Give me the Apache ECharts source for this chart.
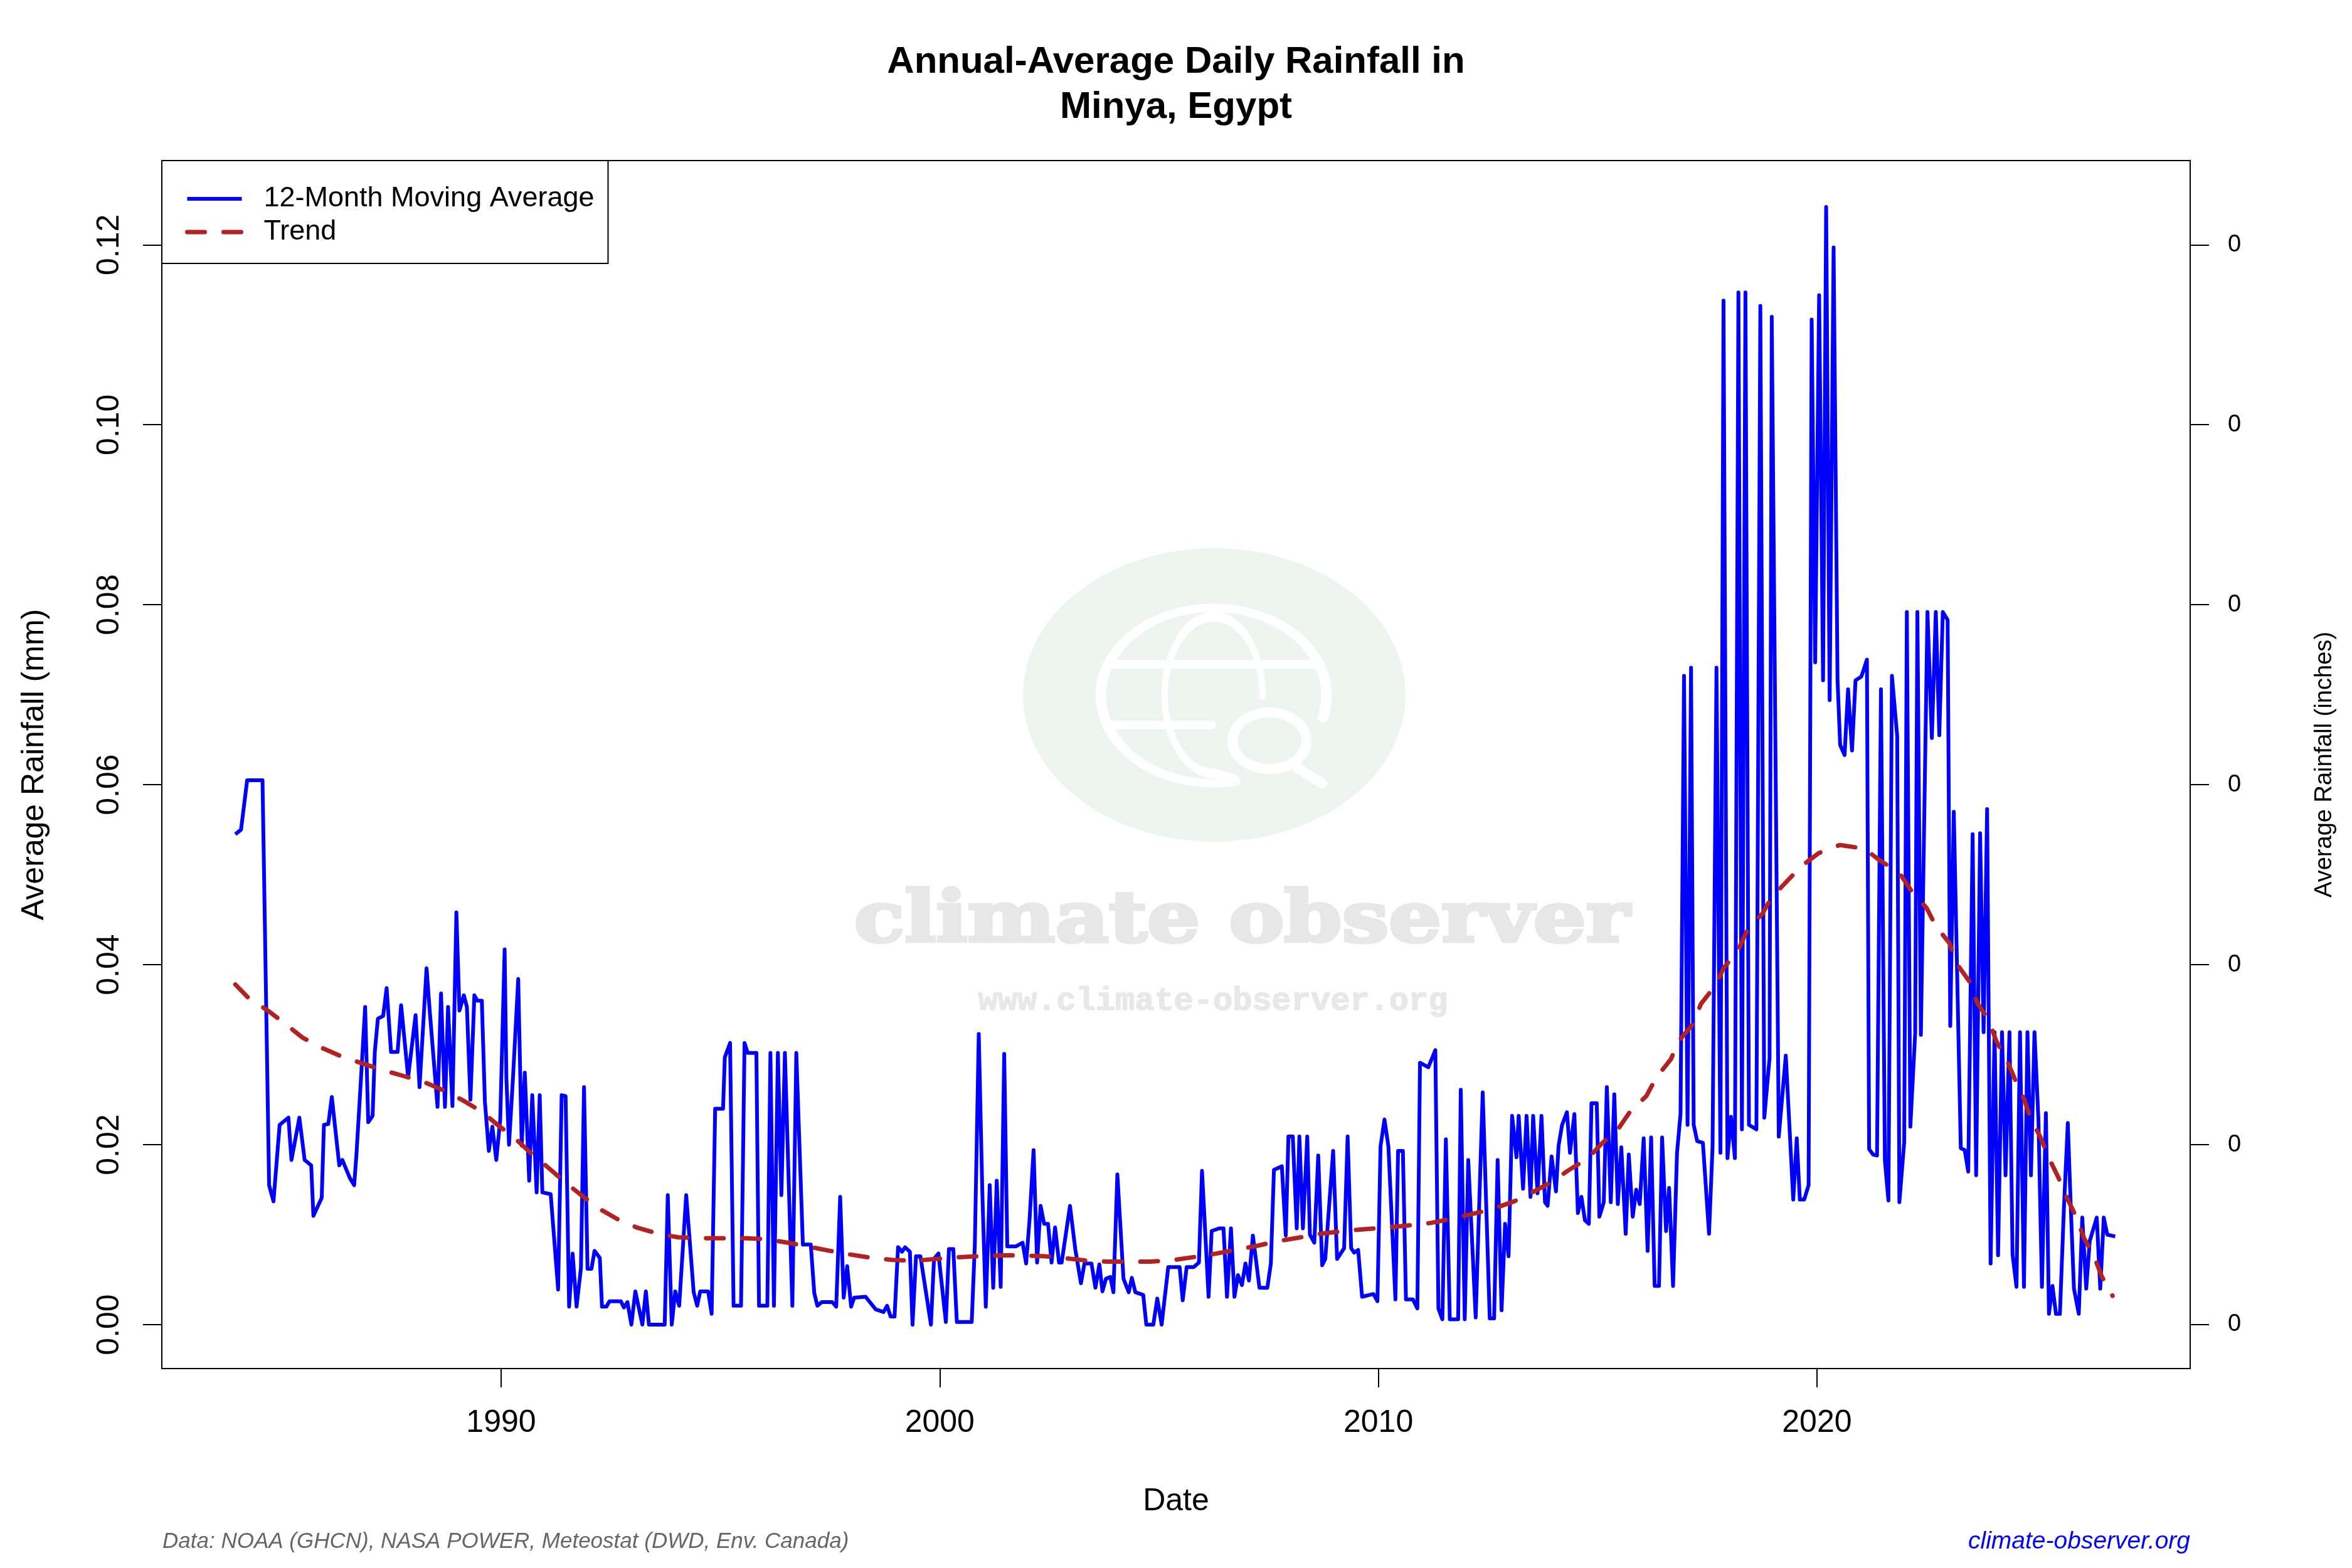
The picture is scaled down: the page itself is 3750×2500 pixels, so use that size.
<!DOCTYPE html>
<html>
<head>
<meta charset="utf-8">
<script src="https://cdn.jsdelivr.net/npm/echarts@6/dist/echarts.min.js"></script>
<style>
html,body{margin:0;padding:0;background:#fff;}
#chart{width:3750px;height:2500px;}
</style>
</head>
<body>
<div id="chart"></div>
<script>
// ---- data (decimal years, mm/day) ----
const maDates = [
1983.94,1984.07,1984.21,1984.56,1984.71,1984.81,1984.95,1985.15,1985.22,1985.40,1985.52,1985.67,1985.72,1985.91,1985.96,
1986.06,1986.14,1986.31,1986.38,1986.55,1986.65,1986.70,1986.78,1986.90,1986.97,1987.07,1987.12,1987.19,1987.31,1987.39,
1987.49,1987.64,1987.72,1987.88,1988.05,1988.14,1988.30,1988.37,1988.55,1988.63,1988.72,1988.79,1988.89,1988.98,1989.05,
1989.15,1989.22,1989.30,1989.39,1989.46,1989.56,1989.63,1989.72,1989.80,1989.89,1989.98,1990.08,1990.12,1990.18,1990.27,
1990.39,1990.47,1990.54,1990.64,1990.71,1990.81,1990.88,1990.94,1991.13,1991.30,1991.38,1991.47,1991.55,1991.63,1991.72,
1991.82,1991.89,1991.97,1992.06,1992.13,1992.25,1992.30,1992.40,1992.47,1992.73,1992.80,1992.88,1992.97,1993.06,1993.22,
1993.30,1993.37,1993.73,1993.80,1993.89,1993.97,1994.06,1994.22,1994.39,1994.47,1994.54,1994.72,1994.80,1994.88,1995.06,
1995.10,1995.22,1995.30,1995.47,1995.55,1995.62,1995.82,1995.88,1996.07,1996.14,1996.22,1996.31,1996.39,1996.47,1996.64,
1996.73,1996.88,1997.06,1997.14,1997.21,1997.31,1997.55,1997.64,1997.73,1997.81,1997.89,1997.98,1998.05,1998.31,1998.54,
1998.72,1998.80,1998.88,1998.97,1999.05,1999.14,1999.21,1999.32,1999.38,1999.46,1999.56,1999.80,1999.87,1999.97,2000.14,
2000.21,2000.31,2000.39,2000.73,2000.80,2000.89,2000.97,2001.05,2001.14,2001.22,2001.30,2001.39,2001.47,2001.54,2001.74,
2001.89,2001.97,2002.05,2002.14,2002.22,2002.30,2002.38,2002.47,2002.55,2002.63,2002.72,2002.78,2002.97,2003.09,2003.22,
2003.30,2003.46,2003.55,2003.64,2003.71,2003.79,2003.89,2003.96,2004.05,2004.19,2004.31,2004.38,2004.46,2004.64,2004.71,
2004.87,2004.96,2005.06,2005.21,2005.47,2005.54,2005.63,2005.79,2005.91,2005.98,2006.13,2006.20,2006.37,2006.47,2006.55,
2006.64,2006.72,2006.80,2006.89,2006.97,2007.05,2007.14,2007.29,2007.47,2007.55,2007.62,2007.80,2007.89,2007.95,2008.05,
2008.14,2008.20,2008.28,2008.38,2008.44,2008.54,2008.63,2008.72,2008.79,2008.97,2009.06,2009.22,2009.30,2009.38,2009.45,
2009.54,2009.63,2009.89,2009.98,2010.05,2010.14,2010.23,2010.39,2010.45,2010.56,2010.63,2010.79,2010.89,2010.95,2011.14,
2011.30,2011.37,2011.46,2011.54,2011.63,2011.82,2011.88,2011.97,2012.05,2012.22,2012.38,2012.54,2012.64,2012.72,2012.81,
2012.89,2012.97,2013.05,2013.15,2013.20,2013.30,2013.38,2013.47,2013.53,2013.63,2013.72,2013.80,2013.86,2013.95,2014.05,
2014.11,2014.19,2014.30,2014.37,2014.47,2014.55,2014.63,2014.71,2014.80,2014.86,2014.98,2015.04,2015.14,2015.21,2015.30,
2015.38,2015.46,2015.54,2015.64,2015.71,2015.80,2015.88,2015.96,2016.05,2016.14,2016.22,2016.30,2016.40,2016.47,2016.56,
2016.63,2016.72,2016.81,2016.89,2016.97,2017.05,2017.13,2017.19,2017.27,2017.40,2017.54,2017.62,2017.71,2017.80,2017.87,
2017.96,2018.04,2018.13,2018.21,2018.29,2018.37,2018.45,2018.62,2018.71,2018.80,2018.92,2018.97,2019.13,2019.29,2019.46,
2019.54,2019.61,2019.71,2019.81,2019.88,2019.96,2020.05,2020.14,2020.21,2020.29,2020.38,2020.47,2020.53,2020.63,2020.71,
2020.80,2020.88,2021.01,2021.06,2021.14,2021.19,2021.28,2021.37,2021.46,2021.55,2021.63,2021.71,2021.83,2021.88,2021.99,
2022.05,2022.13,2022.24,2022.29,2022.37,2022.52,2022.62,2022.71,2022.79,2022.87,2022.98,2023.04,2023.12,2023.28,2023.37,
2023.45,2023.55,2023.63,2023.72,2023.80,2023.88,2023.96,2024.05,2024.13,2024.22,2024.30,2024.39,2024.46,2024.55,2024.63,
2024.72,2024.80,2024.88,2024.96,2025.05,2025.13,2025.22,2025.29,2025.37,2025.45,2025.54,2025.63,2025.72,2025.79,2025.86,
2025.97,2026.05,2026.14,2026.22,2026.38,2026.46,2026.54,2026.62,2026.80
];
const maValues = [
0.0545,0.0550,0.0605,0.0605,0.0155,0.0137,0.0222,0.0230,0.0183,0.0230,0.0183,0.0177,0.0121,0.0141,0.0222,
0.0223,0.0253,0.0177,0.0183,0.0163,0.0155,0.0188,0.0253,0.0353,0.0225,0.0232,0.0303,0.0340,0.0343,0.0374,
0.0303,0.0303,0.0355,0.0275,0.0344,0.0264,0.0396,0.0350,0.0242,0.0368,0.0242,0.0353,0.0243,0.0458,0.0349,
0.0366,0.0353,0.0250,0.0366,0.0360,0.0360,0.0248,0.0193,0.0220,0.0183,0.0228,0.0417,0.0274,0.0200,0.0274,
0.0384,0.0199,0.0280,0.0160,0.0255,0.0147,0.0255,0.0147,0.0145,0.0039,0.0255,0.0254,0.0020,0.0079,0.0020,
0.0063,0.0264,0.0062,0.0062,0.0082,0.0074,0.0020,0.0020,0.0026,0.0026,0.0019,0.0025,0.0000,0.0037,0.0000,
0.0037,0.0000,0.0000,0.0144,0.0000,0.0037,0.0021,0.0144,0.0036,0.0021,0.0037,0.0037,0.0012,0.0240,0.0240,
0.0297,0.0313,0.0021,0.0021,0.0313,0.0302,0.0302,0.0021,0.0021,0.0302,0.0021,0.0302,0.0144,0.0302,0.0021,
0.0302,0.0089,0.0089,0.0035,0.0021,0.0025,0.0025,0.0020,0.0142,0.0030,0.0065,0.0020,0.0030,0.0031,0.0017,
0.0014,0.0021,0.0009,0.0009,0.0086,0.0081,0.0086,0.0081,0.0000,0.0076,0.0076,0.0000,0.0073,0.0079,0.0003,
0.0084,0.0084,0.0003,0.0003,0.0088,0.0323,0.0150,0.0020,0.0155,0.0041,0.0160,0.0042,0.0301,0.0087,0.0087,
0.0091,0.0068,0.0118,0.0194,0.0069,0.0132,0.0112,0.0112,0.0069,0.0108,0.0069,0.0069,0.0132,0.0084,0.0046,
0.0068,0.0068,0.0041,0.0067,0.0037,0.0051,0.0053,0.0036,0.0167,0.0051,0.0036,0.0052,0.0036,0.0033,0.0000,
0.0000,0.0029,0.0000,0.0064,0.0064,0.0027,0.0064,0.0064,0.0069,0.0171,0.0031,0.0104,0.0107,0.0107,0.0031,
0.0107,0.0031,0.0055,0.0044,0.0068,0.0049,0.0099,0.0041,0.0041,0.0068,0.0172,0.0176,0.0099,0.0209,0.0209,
0.0107,0.0209,0.0107,0.0209,0.0100,0.0091,0.0188,0.0066,0.0073,0.0193,0.0073,0.0085,0.0209,0.0085,0.0080,
0.0083,0.0031,0.0034,0.0026,0.0198,0.0228,0.0198,0.0028,0.0193,0.0193,0.0028,0.0028,0.0018,0.0291,0.0286,
0.0305,0.0018,0.0006,0.0206,0.0006,0.0006,0.0261,0.0006,0.0183,0.0008,0.0258,0.0007,0.0007,0.0183,0.0016,
0.0112,0.0076,0.0232,0.0186,0.0232,0.0151,0.0232,0.0142,0.0232,0.0146,0.0232,0.0136,0.0132,0.0187,0.0148,
0.0199,0.0222,0.0236,0.0191,0.0234,0.0124,0.0142,0.0116,0.0112,0.0246,0.0246,0.0120,0.0136,0.0264,0.0136,
0.0256,0.0134,0.0197,0.0101,0.0189,0.0120,0.0150,0.0134,0.0207,0.0082,0.0208,0.0043,0.0043,0.0208,0.0104,
0.0152,0.0043,0.0191,0.0234,0.0721,0.0222,0.0730,0.0222,0.0204,0.0202,0.0101,0.0197,0.0730,0.0191,0.1138,
0.0185,0.0231,0.0185,0.1147,0.0217,0.1147,0.0222,0.0217,0.1132,0.0230,0.0296,0.1120,0.0209,0.0299,0.0139,
0.0207,0.0139,0.0139,0.0155,0.1117,0.0736,0.1144,0.0716,0.1242,0.0694,0.1197,0.0716,0.0644,0.0633,0.0706,
0.0638,0.0716,0.0720,0.0727,0.0739,0.0195,0.0189,0.0188,0.0706,0.0182,0.0138,0.0721,0.0654,0.0136,0.0203,
0.0792,0.0220,0.0324,0.0792,0.0322,0.0792,0.0652,0.0792,0.0655,0.0792,0.0783,0.0332,0.0570,0.0196,0.0194,
0.0170,0.0545,0.0166,0.0546,0.0325,0.0573,0.0068,0.0325,0.0077,0.0325,0.0166,0.0325,0.0078,0.0042,0.0325,
0.0042,0.0325,0.0166,0.0325,0.0228,0.0042,0.0235,0.0012,0.0043,0.0012,0.0012,0.0128,0.0224,0.0128,0.0040,
0.0012,0.0119,0.0040,0.0093,0.0119,0.0040,0.0119,0.0100,0.0098
];
const trendDates = [
1983.94,1984.24,1984.71,1985.11,1985.47,1985.94,1986.36,1986.85,1987.29,1987.80,1988.22,1988.71,1989.10,1989.55,1989.92,
1990.34,1990.69,1991.06,1991.44,1991.85,1992.23,1992.66,1993.09,1993.59,1994.04,1994.69,1995.57,1996.02,1996.55,1996.97,
1997.50,1997.95,1998.48,1998.91,1999.45,1999.90,2000.44,2000.88,2001.43,2001.85,2002.41,2002.82,2003.38,2003.82,2004.80,
2005.35,2005.78,2006.31,2006.75,2007.27,2007.73,2008.23,2008.68,2009.21,2009.66,2010.21,2010.64,2011.19,2011.62,2012.14,
2012.57,2013.10,2013.47,2013.97,2014.32,2014.78,2015.09,2015.49,2015.73,2016.11,2016.33,2016.67,2016.85,2017.19,2017.35,
2017.70,2017.87,2018.21,2018.40,2018.76,2018.97,2019.38,2019.66,2020.04,2020.52,2021.08,2021.43,2021.88,2022.14,2022.50,
2022.71,2023.02,2023.19,2023.48,2023.65,2023.92,2024.09,2024.33,2024.52,2024.72,2024.88,2025.10,2025.29,2025.50,2025.69,
2025.90,2026.09,2026.31,2026.50,2026.74
];
const trendValues = [
0.0378,0.0363,0.0348,0.0333,0.0319,0.0307,0.0298,0.0290,0.0283,0.0276,0.0270,0.0260,0.0250,0.0237,0.0222,
0.0206,0.0190,0.0175,0.0159,0.0143,0.0129,0.0117,0.0108,0.0101,0.0097,0.0096,0.0096,0.0095,0.0091,0.0087,
0.0082,0.0078,0.0074,0.0072,0.0071,0.0073,0.0075,0.0076,0.0077,0.0077,0.0076,0.0074,0.0071,0.0070,0.0070,
0.0072,0.0075,0.0079,0.0083,0.0088,0.0093,0.0097,0.0101,0.0104,0.0106,0.0108,0.0110,0.0113,0.0117,0.0123,
0.0128,0.0137,0.0146,0.0159,0.0171,0.0185,0.0201,0.0219,0.0236,0.0254,0.0274,0.0295,0.0315,0.0335,0.0356,
0.0378,0.0396,0.0417,0.0437,0.0457,0.0475,0.0496,0.0510,0.0524,0.0533,0.0529,0.0516,0.0502,0.0483,0.0463,
0.0443,0.0424,0.0401,0.0381,0.0358,0.0338,0.0315,0.0294,0.0272,0.0251,0.0228,0.0208,0.0185,0.0164,0.0142,
0.0121,0.0096,0.0077,0.0053,0.0032
];
const xTicks = [1990, 2000, 2010, 2020];
const yTicks = [0, 0.02, 0.04, 0.06, 0.08, 0.10, 0.12];
const seriesNames = ['12-Month Moving Average', 'Trend'];

// ---- chart ----
const FONT = '"Liberation Sans", Arial, Helvetica, sans-serif';
const maData = maDates.map((d, i) => [d, maValues[i]]);
const trendData = trendDates.map((d, i) => [d, trendValues[i]]);
const Y_MIN = -0.00488, Y_MAX = 0.12936;
const DEG = Math.PI / 180;

const chart = echarts.init(document.getElementById('chart'), null, {renderer: 'canvas'});
const WM = '#eef4ef';
const wmStroke = (w) => ({fill: null, stroke: '#ffffff', lineWidth: w, lineCap: 'round', strokeNoScale: true});
const option = {
  animation: false,
  backgroundColor: '#ffffff',
  title: {
    text: 'Annual-Average Daily Rainfall in\nMinya, Egypt',
    left: 'center', top: 63, padding: 0,
    textStyle: {fontFamily: FONT, fontSize: 60, fontWeight: 'bold', lineHeight: 72, color: '#000'}
  },
  legend: {
    data: seriesNames, orient: 'vertical', left: 258, top: 256,
    padding: [38, 22, 27, 37], itemWidth: 87, itemHeight: 14, itemGap: 7,
    borderColor: '#000', borderWidth: 2, borderRadius: 0, backgroundColor: '#fff',
    selectedMode: false,
    itemStyle: {opacity: 0},
    lineStyle: {width: 'inherit', opacity: 1},
    textStyle: {fontFamily: FONT, fontSize: 45, color: '#000', lineHeight: 46, padding: [0, 0, 0, 30]}
  },
  grid: {left: 258, right: 258, top: 256, bottom: 318, show: true, borderColor: '#000', borderWidth: 2, backgroundColor: 'transparent'},
  xAxis: {
    type: 'value', min: 1982.264, max: 2028.51,
    name: 'Date', nameLocation: 'middle', nameGap: 187,
    nameTextStyle: {fontFamily: FONT, fontSize: 50, color: '#000'},
    axisLine: {show: true, onZero: false, lineStyle: {color: '#000', width: 2}},
    axisTick: {show: true, length: 30, customValues: xTicks, lineStyle: {color: '#000', width: 2}},
    axisLabel: {customValues: xTicks, fontFamily: FONT, fontSize: 50, color: '#000', margin: 62,
      formatter: v => String(Math.round(v))},
    splitLine: {show: false}
  },
  yAxis: [{
    type: 'value', min: Y_MIN, max: Y_MAX, position: 'left',
    name: 'Average Rainfall (mm)', nameLocation: 'middle', nameGap: 178,
    nameTextStyle: {fontFamily: FONT, fontSize: 50, color: '#000'},
    axisLine: {show: true, onZero: false, lineStyle: {color: '#000', width: 2}},
    axisTick: {show: true, length: 30, customValues: yTicks, lineStyle: {color: '#000', width: 2}},
    axisLabel: {customValues: yTicks, rotate: 90, fontFamily: FONT, fontSize: 50, color: '#000', margin: 58,
      formatter: v => v.toFixed(2)},
    splitLine: {show: false}
  }, {
    type: 'value', min: Y_MIN, max: Y_MAX, position: 'right',
    name: 'Average Rainfall (inches)', nameLocation: 'middle', nameGap: 196,
    nameTextStyle: {fontFamily: FONT, fontSize: 38, color: '#000'},
    axisLine: {show: true, onZero: false, lineStyle: {color: '#000', width: 2}},
    axisTick: {show: true, length: 30, customValues: yTicks, lineStyle: {color: '#000', width: 2}},
    axisLabel: {customValues: yTicks, fontFamily: FONT, fontSize: 38, color: '#000', margin: 60,
      formatter: v => (v / 25.4).toFixed(0)},
    splitLine: {show: false}
  }],
  graphic: {elements: [
    {type: 'ellipse', z: 1, silent: true, shape: {cx: 1936, cy: 1108, rx: 305, ry: 234}, style: {fill: WM}},
    {type: 'arc', z: 1, silent: true, x: 1935, y: 1109, scaleY: 140 / 180,
      shape: {cx: 0, cy: 0, r: 180, startAngle: 79 * DEG, endAngle: 374.8 * DEG, clockwise: true},
      style: wmStroke(17)},
    {type: 'arc', z: 1, silent: true, x: 1935, y: 1108, scaleX: 78 / 125,
      shape: {cx: 0, cy: 0, r: 125, startAngle: 0, endAngle: 90 * DEG, clockwise: false},
      style: wmStroke(16)},
    {type: 'line', z: 1, silent: true, shape: {x1: 1935, y1: 1233, x2: 1968, y2: 1242}, style: wmStroke(15)},
    {type: 'line', z: 1, silent: true, shape: {x1: 1767, y1: 1059, x2: 2103, y2: 1059}, style: wmStroke(14)},
    {type: 'line', z: 1, silent: true, shape: {x1: 1765, y1: 1156, x2: 1932, y2: 1156}, style: wmStroke(14)},
    {type: 'ellipse', z: 1, silent: true, shape: {cx: 2024, cy: 1181, rx: 59, ry: 45},
      style: {fill: null, stroke: '#ffffff', lineWidth: 16}},
    {type: 'line', z: 1, silent: true, shape: {x1: 2068, y1: 1224, x2: 2108, y2: 1249}, style: wmStroke(16)},
    {type: 'text', z: 1, silent: true, x: 1980, y: 1416, scaleX: 1.18,
      style: {text: 'climate observer', fill: '#e7e7e7', stroke: '#e7e7e7', lineWidth: 5,
        font: 'bold 112px "DejaVu Serif"', align: 'center', verticalAlign: 'top'}},
    {type: 'text', z: 1, silent: true, x: 1934, y: 1597,
      style: {text: 'www.climate-observer.org', fill: '#e8e8e8', stroke: '#e8e8e8', lineWidth: 1.5,
        font: 'bold 52px "Liberation Mono"', align: 'center', verticalAlign: 'middle'}},
    {type: 'text', silent: true, x: 259, y: 2458,
      style: {text: 'Data: NOAA (GHCN), NASA POWER, Meteostat (DWD, Env. Canada)', fill: '#666666', font: 'italic 35px "Liberation Sans"', align: 'left', verticalAlign: 'middle'}},
    {type: 'text', silent: true, x: 3492, y: 2458,
      style: {text: 'climate-observer.org', fill: '#0000ff', font: 'italic 39px "Liberation Sans"', align: 'right', verticalAlign: 'middle'}}
  ]},
  series: [{
    type: 'line', name: seriesNames[0], data: maData, yAxisIndex: 0, symbol: 'none', z: 3,
    lineStyle: {color: '#0000ff', width: 6, join: 'round'}, itemStyle: {color: '#0000ff'}
  }, {
    type: 'line', name: seriesNames[1], data: trendData, yAxisIndex: 0, symbol: 'none', z: 4,
    lineStyle: {color: '#b22222', width: 7, type: [28, 30], cap: 'round'}, itemStyle: {color: '#b22222'}
  }]
};
chart.setOption(option);
</script>
</body>
</html>
